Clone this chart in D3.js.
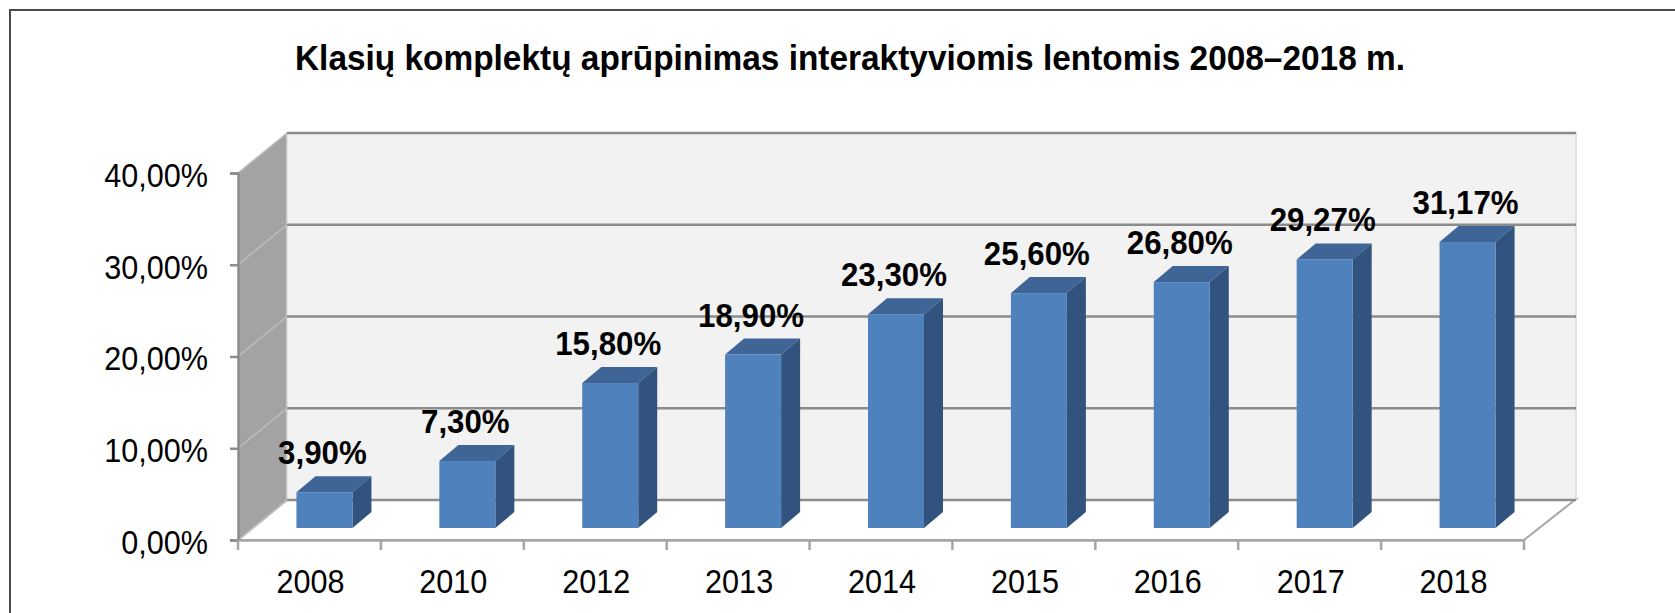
<!DOCTYPE html>
<html>
<head>
<meta charset="utf-8">
<script src="https://cdn.jsdelivr.net/npm/d3@7"></script>
<style>
  body { margin: 0; background: #fff; }
  svg { display: block; font-family: 'Liberation Sans', Arial, sans-serif; }
</style>
</head>
<body>
<div id="chart"></div>
<script>
// data
const years = ['2008', '2010', '2012', '2013', '2014', '2015', '2016', '2017', '2018']
const values = [3.90, 7.30, 15.80, 18.90, 23.30, 25.60, 26.80, 29.27, 31.17]
const yTicks = [0, 10, 20, 30, 40]
const title = 'Klasių komplektų aprūpinimas interaktyviomis lentomis 2008–2018 m.'

const W = 1675, H = 613
const SX = 0.9   // text in the original is a bit narrow

const lt = d3.formatLocale({ decimal: ',', thousands: ' ', grouping: [3], currency: ['', ''] })
const pct = lt.format('.2f')

const svg = d3.select('#chart')
    .append('svg')
    .attr('width', W)
    .attr('height', H)

// frame
svg.append('rect')
    .attr('x', 10).attr('y', 10)
    .attr('width', W + 20).attr('height', H + 20)
    .attr('fill', 'none')
    .attr('stroke', '#4a4a4a')
    .attr('stroke-width', 2)

svg.append('text')
    .attr('x', 850)
    .attr('y', 70)
    .attr('text-anchor', 'middle')
    .attr('font-size', 35)
    .attr('font-weight', 'bold')
    .attr('textLength', 1110)
    .attr('lengthAdjust', 'spacingAndGlyphs')
    .text(title)

// front plane scales, depth offset for the back wall
const x = d3.scaleBand().domain(years).range([238, 1524]).padding(0)
const y = d3.scaleLinear().domain([0, 40]).range([540, 173])
const DX = 49, DY = -40
const left = x.range()[0], right = x.range()[1]

// floor
svg.append('polygon')
    .attr('points', [[left, y(0)], [right, y(0)], [right + DX + 3, y(0) + DY - 1], [left + DX, y(0) + DY]].join(' '))
    .attr('fill', '#fff')
    .attr('stroke', '#a6a6a6')
    .attr('stroke-width', 2)

// side wall
svg.append('polygon')
    .attr('points', [[left, y(40)], [left + DX, y(40) + DY], [left + DX, y(0) + DY], [left, y(0)]].join(' '))
    .attr('fill', '#a3a3a3')

// back wall
svg.append('rect')
    .attr('x', left + DX)
    .attr('y', y(40) + DY)
    .attr('width', right + DX + 3 - (left + DX))
    .attr('height', y(0) - y(40))
    .attr('fill', '#f2f2f2')
    .attr('stroke', '#d9d9d9')
    .attr('stroke-width', 1.5)

// gridlines
svg.selectAll('.grid')
    .data(yTicks)
    .enter()
    .append('line')
    .attr('x1', left + DX)
    .attr('x2', right + DX + 3)
    .attr('y1', d => y(d) + DY)
    .attr('y2', d => y(d) + DY)
    .attr('stroke', '#8c8c8c')
    .attr('stroke-width', 2.5)

svg.selectAll('.sgrid')
    .data(yTicks)
    .enter()
    .append('line')
    .attr('x1', left)
    .attr('x2', left + DX)
    .attr('y1', d => y(d))
    .attr('y2', d => y(d) + DY)
    .attr('stroke', '#bdbdbd')
    .attr('stroke-width', 1.5)

// y axis
const yAxis = svg.append('g')
    .attr('transform', 'translate(' + left + ',0)')
    .call(d3.axisLeft(y).tickValues(yTicks).tickSize(8).tickPadding(0)
        .tickFormat(d => pct(d) + '%'))
yAxis.select('.domain').attr('stroke', '#8c8c8c').attr('stroke-width', 2.5)
yAxis.selectAll('.tick line').attr('stroke', '#8c8c8c').attr('stroke-width', 2.5)
yAxis.selectAll('.tick text')
    .attr('x', 0)
    .attr('dy', '0.36em')
    .attr('transform', 'translate(-30,1) scale(' + SX + ',1)')
    .attr('font-size', 34)
    .attr('font-family', "'Liberation Sans', Arial, sans-serif")
    .attr('fill', '#000')

// x axis
const xAxis = svg.append('g')
    .attr('transform', 'translate(0,' + y(0) + ')')
    .call(d3.axisBottom(x).tickSize(0).tickPadding(0))
xAxis.select('.domain').attr('stroke', '#a6a6a6').attr('stroke-width', 2.5)
xAxis.selectAll('.tick text')
    .attr('y', 0)
    .attr('dy', 0)
    .attr('transform', 'translate(1,53) scale(' + SX + ',1)')
    .attr('font-size', 34)
    .attr('font-family', "'Liberation Sans', Arial, sans-serif")
    .attr('fill', '#000')

svg.selectAll('.xtick')
    .data(years.concat(['end']))
    .enter()
    .append('line')
    .attr('x1', (d, i) => left + i * x.bandwidth())
    .attr('x2', (d, i) => left + i * x.bandwidth())
    .attr('y1', y(0))
    .attr('y2', y(0) + 10)
    .attr('stroke', '#a6a6a6')
    .attr('stroke-width', 2.5)

// bars
const bw = 56
const fdx = 15, fdy = -12     // front face pushed into the floor
const bdx = 19, bdy = -16     // bar depth

const bars = svg.selectAll('.bar')
    .data(values)
    .enter()
    .append('g')

bars.append('polygon')
    .attr('points', (d, i) => {
        const x0 = x(years[i]) + x.bandwidth() / 2 + fdx - bw / 2
        const yt = y(d) + fdy
        return [[x0, yt], [x0 + bdx, yt + bdy], [x0 + bw + bdx, yt + bdy], [x0 + bw, yt]].join(' ')
    })
    .attr('fill', '#3e6596')

bars.append('polygon')
    .attr('points', (d, i) => {
        const x1 = x(years[i]) + x.bandwidth() / 2 + fdx + bw / 2
        const yt = y(d) + fdy, yb = y(0) + fdy
        return [[x1, yt], [x1 + bdx, yt + bdy], [x1 + bdx, yb + bdy], [x1, yb]].join(' ')
    })
    .attr('fill', '#32537d')

bars.append('rect')
    .attr('x', (d, i) => x(years[i]) + x.bandwidth() / 2 + fdx - bw / 2)
    .attr('y', d => y(d) + fdy)
    .attr('width', bw)
    .attr('height', d => y(0) - y(d))
    .attr('fill', '#4f81bd')

bars.append('text')
    .attr('transform', (d, i) => 'translate(' + (x(years[i]) + x.bandwidth() / 2 + fdx - 2) + ','
        + (y(d) + fdy + bdy - 12) + ') scale(0.92,1)')
    .attr('text-anchor', 'middle')
    .attr('font-size', 34)
    .attr('font-weight', 'bold')
    .attr('fill', '#000')
    .text(d => pct(d) + '%')
</script>
</body>
</html>
